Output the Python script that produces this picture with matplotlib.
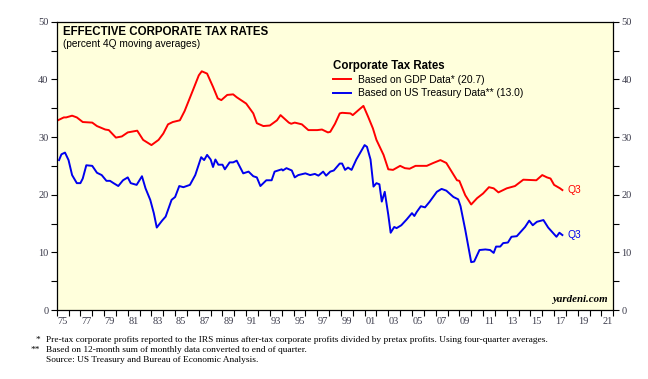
import matplotlib.pyplot as plt

# Based on GDP data (red)
gdp_years = [1975.0, 1975.6, 1975.8, 1976.3, 1976.7, 1977.2, 1978.0, 1978.4, 1979.1, 1979.4,
             1980.0, 1980.5, 1981.0, 1981.8, 1982.3, 1983.0, 1983.6, 1984.0, 1984.4, 1984.8,
             1985.4, 1985.8, 1986.5, 1987.0, 1987.25, 1987.7, 1988.2, 1988.6, 1988.9, 1989.4,
             1989.9, 1990.2, 1991.0, 1991.6, 1991.9, 1992.45, 1993.0, 1993.6, 1993.9, 1994.6,
             1994.8, 1995.1, 1995.7, 1996.25, 1997.0, 1997.4, 1997.9, 1998.1, 1998.5, 1998.9,
             1999.1, 1999.8, 2000.0, 2000.5, 2000.9, 2001.3, 2001.7, 2002.0, 2002.6, 2003.0,
             2003.4, 2004.0, 2004.4, 2004.8, 2005.3, 2006.25, 2006.8, 2007.4, 2007.9, 2008.8,
             2009.0, 2009.5, 2010.0, 2010.5, 2011.0, 2011.5, 2011.9, 2012.3, 2013.0, 2013.7,
             2014.4, 2015.5, 2016.0, 2016.4, 2016.7, 2017.0, 2017.5, 2017.7]
gdp_rate = [32.8, 33.4, 33.4, 33.7, 33.4, 32.6, 32.5, 31.9, 31.3, 31.2,
            29.9, 30.1, 30.8, 31.1, 29.5, 28.6, 29.5, 30.6, 32.2, 32.6,
            32.9, 34.5, 38.1, 40.7, 41.4, 41.0, 38.7, 36.7, 36.4, 37.3,
            37.4, 36.9, 35.8, 34.1, 32.4, 31.9, 32.0, 32.9, 33.8, 32.5,
            32.3, 32.5, 32.2, 31.2, 31.2, 31.3, 30.8, 30.9, 32.3, 34.1,
            34.2, 34.1, 33.8, 34.7, 35.4, 33.5, 31.5, 29.5, 26.9, 24.4,
            24.3, 25.0, 24.6, 24.5, 25.0, 25.0, 25.5, 26.0, 25.5, 22.5,
            22.4, 19.9, 18.3, 19.4, 20.2, 21.3, 21.1, 20.4, 21.1, 21.5,
            22.6, 22.5, 23.4, 23.0, 22.8, 21.7, 21.1, 20.8]

# Based on US Treasury data (blue)
tsy_years = [1975.2, 1975.4, 1975.7, 1976.0, 1976.3, 1976.7, 1977.0, 1977.2, 1977.5, 1978.0,
             1978.4, 1978.8, 1979.2, 1979.5, 1979.8, 1980.2, 1980.6, 1981.0, 1981.25, 1981.75,
             1982.2, 1982.5, 1982.9, 1983.2, 1983.45, 1983.9, 1984.2, 1984.7, 1985.0, 1985.35,
             1985.7, 1986.25, 1986.7, 1987.2, 1987.45, 1987.7, 1988.0, 1988.2, 1988.4, 1988.65,
             1989.0, 1989.2, 1989.6, 1989.9, 1990.2, 1990.75, 1991.2, 1991.6, 1991.9, 1992.2,
             1992.7, 1993.15, 1993.4, 1994.0, 1994.1, 1994.4, 1994.85, 1995.1, 1995.4, 1996.0,
             1996.4, 1996.8, 1997.1, 1997.5, 1997.75, 1998.1, 1998.4, 1998.9, 1999.1, 1999.35,
             1999.6, 1999.9, 2000.3, 2001.0, 2001.2, 2001.5, 2001.75, 2002.0, 2002.25, 2002.45,
             2002.7, 2003.0, 2003.2, 2003.5, 2003.7, 2004.1, 2004.55, 2005.0, 2005.2, 2005.4,
             2005.75, 2006.1, 2006.5, 2007.1, 2007.5, 2007.9, 2008.5, 2008.9, 2009.1, 2009.5,
             2010.0, 2010.25, 2010.7, 2011.2, 2011.6, 2011.9, 2012.1, 2012.45, 2012.7, 2013.1,
             2013.4, 2013.85, 2014.55, 2014.9, 2015.2, 2015.55, 2016.1, 2016.5, 2017.2, 2017.45,
             2017.7]
tsy_rate = [26.0, 27.0, 27.3, 26.0, 23.4, 22.0, 22.0, 22.8, 25.1, 25.0,
            23.8, 23.4, 22.4, 22.4, 22.0, 21.5, 22.5, 23.0, 22.0, 21.7,
            23.2, 21.1, 19.1, 16.8, 14.3, 15.5, 16.2, 19.1, 19.6, 21.5,
            21.3, 21.7, 23.4, 26.5, 26.0, 26.9, 26.1, 24.8, 26.1, 25.2,
            25.2, 24.4, 25.6, 25.6, 25.9, 23.7, 24.0, 23.2, 23.0, 21.5,
            22.5, 22.5, 24.0, 24.4, 24.2, 24.6, 24.2, 23.0, 23.4, 23.7,
            23.4, 23.6, 23.3, 24.0, 23.3, 24.0, 24.2, 25.4, 25.4, 24.3,
            24.7, 24.3, 26.1, 28.6, 28.3, 26.1, 21.4, 22.0, 21.8, 18.8,
            20.5, 16.5, 13.4, 14.4, 14.2, 14.7, 15.7, 16.8, 16.3, 17.0,
            18.0, 17.8, 18.8, 20.5, 21.0, 20.7, 19.6, 19.2, 18.0, 13.9,
            8.3, 8.4, 10.4, 10.5, 10.4, 9.9, 11.0, 11.0, 11.6, 11.7,
            12.7, 12.8, 14.4, 15.5, 14.7, 15.3, 15.6, 14.3, 12.7, 13.4,
            13.0]

year_ticks = list(range(1975, 2023))
year_labels = ['%02d' % (y % 100) for y in range(1975, 2022, 2)]
y_ticks = [0, 10, 20, 30, 40, 50]

serif = 'Liberation Serif'
sans = 'Liberation Sans'
tick_color = '#3a3a4a'

fig = plt.figure(figsize=(6.48, 3.79), dpi=100)
ax = fig.add_axes([56.7 / 648, 1 - 310 / 379, (613.3 - 56.7) / 648, (310 - 21.7) / 379])
ax.set_facecolor('#ffffdc')

l1, = ax.plot(gdp_years, gdp_rate, color='#ff0000', lw=1.4,
              label='Based on GDP Data* (20.7)')
l2, = ax.plot(tsy_years, tsy_rate, color='#0000ee', lw=1.4,
              label='Based on US Treasury Data** (13.0)')

ax.set_xlim(1975, 2022)
ax.set_ylim(0, 50)
ax.set_xticks(year_ticks)
ax.set_xticklabels([])
ax.set_xticks([y + 0.5 for y in range(1975, 2022, 2)], minor=True)
ax.set_xticklabels(year_labels, minor=True)
ax.tick_params(axis='x', which='major', direction='out', length=4, width=0.8)
ax.tick_params(axis='x', which='minor', length=0, pad=5, labelsize=7.5,
               labelcolor=tick_color)
ax.set_yticks(y_ticks)
ax.set_yticks([5, 15, 25, 35, 45], minor=True)
ax.tick_params(axis='y', which='both', direction='out', length=4, width=0.8,
               labelsize=7.5, labelcolor=tick_color, left=True, right=True,
               labelleft=True, labelright=True, pad=2)
for lab in ax.get_xticklabels(minor=True) + ax.get_yticklabels():
    lab.set_fontfamily(serif)
for sp in ax.spines.values():
    sp.set_linewidth(0.9)

# titles
ax.text(0.012, 0.985, 'EFFECTIVE CORPORATE TAX RATES', transform=ax.transAxes,
        fontsize=8.3, fontweight='bold', family=sans, va='top')
ax.text(0.012, 0.94, '(percent 4Q moving averages)', transform=ax.transAxes,
        fontsize=7.3, family=sans, va='top')

leg = ax.legend(handles=[l1, l2], title='Corporate Tax Rates', loc='upper left',
                bbox_to_anchor=(333 / 648, 1 - 60 / 379), bbox_transform=fig.transFigure,
                frameon=False, handlelength=1.8, handletextpad=0.6,
                labelspacing=0.3, borderpad=0, borderaxespad=0, alignment='left',
                prop={'family': sans, 'size': 7.4})
leg.get_title().set_fontweight('bold')
leg.get_title().set_fontsize(8.3)
leg.get_title().set_fontfamily(sans)

# end labels
ax.text(gdp_years[-1] + 0.4, gdp_rate[-1], 'Q3', color='#ff0000', fontsize=7.4,
        family=sans, va='center')
ax.text(tsy_years[-1] + 0.4, tsy_rate[-1], 'Q3', color='#0000ee', fontsize=7.4,
        family=sans, va='center')

ax.text(0.99, 0.02, 'yardeni.com', transform=ax.transAxes, fontsize=7.8,
        family=serif, style='italic', fontweight='bold', ha='right', va='bottom')

# footnotes
fs = 6.75
fig.text(40 / 648, 1 - 340 / 379, '*', fontsize=fs, family=serif, ha='right', va='center')
fig.text(40 / 648, 1 - 350 / 379, '**', fontsize=fs, family=serif, ha='right', va='center')
fig.text(46 / 648, 1 - 340 / 379,
         'Pre-tax corporate profits reported to the IRS minus after-tax corporate profits '
         'divided by pretax profits. Using four-quarter averages.',
         fontsize=fs, family=serif, va='center')
fig.text(46 / 648, 1 - 350 / 379,
         'Based on 12-month sum of monthly data converted to end of quarter.',
         fontsize=fs, family=serif, va='center')
fig.text(46 / 648, 1 - 360 / 379, 'Source: US Treasury and Bureau of Economic Analysis.',
         fontsize=fs, family=serif, va='center')

fig.savefig('out.png', dpi=100)
